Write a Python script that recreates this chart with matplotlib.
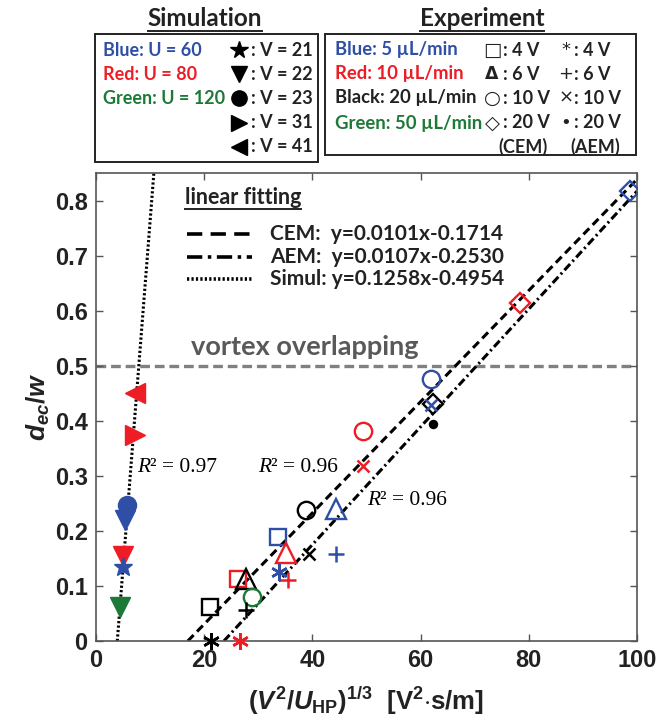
import numpy as np
import matplotlib
matplotlib.use('Agg')
import matplotlib.pyplot as plt
from matplotlib.lines import Line2D
from matplotlib.patches import Rectangle
from matplotlib.ticker import FuncFormatter

# ---- data ----
# simulation: inlet velocity U, voltage V
sim_U = [80, 80, 60, 60, 80, 60, 120]
sim_V = [41, 31, 23, 22, 22, 21, 22]
sim_x = [7.2, 7.2, 5.7, 5.4, 5.0, 5.0, 4.4]
sim_y = [0.451, 0.374, 0.247, 0.220, 0.154, 0.135, 0.062]

# experiment, CEM side (flow rate in uL/min, voltage in V)
cem_flow = [20, 10, 5, 20, 10, 5, 50, 20, 10, 5, 20, 10, 5]
cem_volt = [4, 4, 4, 6, 6, 6, 10, 10, 10, 10, 20, 20, 20]
cem_x = [21.1, 26.3, 33.7, 27.8, 35.2, 44.4, 28.9, 38.9, 49.3, 62.0, 62.2, 78.3, 98.7]
cem_y = [0.062, 0.112, 0.189, 0.112, 0.160, 0.239, 0.080, 0.238, 0.381, 0.476, 0.430, 0.613, 0.818]

# experiment, AEM side
aem_flow = [20, 10, 5, 20, 10, 5, 20, 10, 5, 20]
aem_volt = [4, 4, 4, 6, 6, 6, 10, 10, 10, 20]
aem_x = [21.2, 26.7, 33.8, 27.8, 35.4, 44.4, 39.3, 49.4, 62.0, 62.2]
aem_y = [0.0, 0.0, 0.126, 0.056, 0.111, 0.158, 0.158, 0.318, 0.428, 0.394]

# linear fits (from the labels)
fit_names = ['CEM', 'AEM', 'Simul']
fit_slope = [0.0101, 0.0107, 0.1258]
fit_icpt = [-0.1714, -0.2530, -0.4954]
fit_r2 = [0.96, 0.96, 0.97]

x_ticks = [0, 20, 40, 60, 80, 100]
y_ticks = [0, 0.1, 0.2, 0.3, 0.4, 0.5, 0.6, 0.7, 0.8]
overlap_level = 0.5

# ---- styles ----
BLUE = '#2f4fa6'
RED = '#ee1c25'
GREEN = '#1c7a36'
DARK = '#222222'
u_color = {60: BLUE, 80: RED, 120: GREEN}
flow_color = {5: BLUE, 10: RED, 20: 'black', 50: GREEN}
sim_marker = {21: '*', 22: 'v', 23: 'o', 31: '>', 41: '<'}
sim_ms = {21: 14, 22: 14, 23: 13, 31: 15, 41: 15}
cem_marker = {4: 's', 6: '^', 10: 'o', 20: 'D'}
cem_ms = {4: 11, 6: 15, 10: 12.5, 20: 10}
aem_marker = {4: (6, 2, 0), 6: '+', 10: 'x', 20: 'o'}
aem_ms = {4: 12, 6: 12, 10: 8, 20: 5}

LEG = ['Lato', 'DejaVu Sans']
plt.rcParams['lines.scale_dashes'] = False
plt.rcParams['mathtext.fontset'] = 'custom'
plt.rcParams['mathtext.rm'] = 'Liberation Sans:bold'
plt.rcParams['mathtext.it'] = 'Liberation Sans:bold:italic'
plt.rcParams['mathtext.bf'] = 'Liberation Sans:bold'

W, H = 659, 717
fig = plt.figure(figsize=(W / 100, H / 100), dpi=100)


def fx(px):
    return px / W


def fy(py):
    return 1 - py / H


ax = fig.add_axes([fx(96), fy(641), fx(637) - fx(96), fy(173) - fy(641)])
ax.set_xlim(0, 100)
ax.set_ylim(0, 0.85)

# vortex overlapping line
ax.axhline(overlap_level, color='#808080', lw=2.4, dashes=(7, 3.5), zorder=1)
ax.text(17.5, overlap_level + 0.012, 'vortex overlapping', family=LEG, weight='bold',
        fontsize=19.5, color='#595959', va='bottom')

# fit lines
fit_styles = [dict(dashes=(6, 3.5)), dict(dashes=(6, 2.5, 1.5, 2.5)), dict(dashes=(1.6, 1.6))]
for k in range(3):
    a, b = fit_slope[k], fit_icpt[k]
    if fit_names[k] == 'Simul':
        yy = np.array([0, 0.9])
        xx = (yy - b) / a
    else:
        xx = np.array([-b / a, 100])
        yy = a * xx + b
    ax.plot(xx, yy, color='black', lw=2.2, zorder=2, **fit_styles[k])

# simulation points
for x, y, u, v in zip(sim_x, sim_y, sim_U, sim_V):
    ax.plot(x, y, marker=sim_marker[v], ms=sim_ms[v], color=u_color[u],
            mec=u_color[u], ls='none', zorder=4)

# experiment points
for x, y, f, v in zip(cem_x, cem_y, cem_flow, cem_volt):
    ax.plot(x, y, marker=cem_marker[v], ms=cem_ms[v], mfc='none', mec=flow_color[f],
            mew=1.7, ls='none', zorder=3)
for x, y, f, v in zip(aem_x, aem_y, aem_flow, aem_volt):
    ax.plot(x, y, marker=aem_marker[v], ms=aem_ms[v], color=flow_color[f],
            mec=flow_color[f], mew=1.8, ls='none', zorder=3, clip_on=False)

# R^2 annotations
r2_pos = [(29.9, 0.316), (50.1, 0.256), (7.6, 0.316)]
for (px_, py_), r in zip(r2_pos, fit_r2):
    t = ax.text(px_, py_, 'R', family='Liberation Serif', style='italic', fontsize=15.5,
                va='center')
    ax.annotate('\u00b2 = %.2f' % r, xy=(1, 0.5), xycoords=t, va='center', ha='left',
                family='Liberation Serif', fontsize=15.5)

# axes styling
ax.set_xticks(x_ticks)
ax.set_yticks(y_ticks)
ax.yaxis.set_major_formatter(FuncFormatter(lambda v, p: '0' if v == 0 else '%.1f' % v))
ax.tick_params(direction='in', top=True, right=True, length=5, width=1, color='#555555',
               labelsize=17, pad=6)
for lab in ax.get_xticklabels() + ax.get_yticklabels():
    lab.set_family('Liberation Sans')
    lab.set_weight('bold')
    lab.set_color(DARK)
for s in ax.spines.values():
    s.set_color('#555555')
    s.set_linewidth(1.2)

ax.set_xlabel(r'$(V^{2}/U_{\mathrm{HP}})^{1/3}$  [V$^{2}$$\cdot$s/m]', fontsize=18.5,
              family='Liberation Sans', weight='bold', color=DARK, labelpad=9)
ax.set_ylabel(r'$d_{ec}/w$', fontsize=19, color=DARK, labelpad=2)

# linear fitting legend (inside axes)
t_lf = fig.text(fx(185), fy(197), 'linear fitting', family=LEG, weight='bold',
                fontsize=15.5, va='center', color=DARK)
leg_rows = [234, 257, 279]
leg_dash = [(11, 6), (11, 4, 2.5, 4), (1.6, 1.6)]
for k in range(3):
    fig.add_artist(Line2D([fx(187), fx(252)], [fy(leg_rows[k])] * 2, color='black', lw=2.6,
                          dashes=leg_dash[k], transform=fig.transFigure))
    name = fit_names[k] + ':  ' if fit_names[k] != 'Simul' else 'Simul: '
    fig.text(fx(270), fy(leg_rows[k]), '%sy=%.4fx%.4f' % (name, fit_slope[k], fit_icpt[k]),
             family=LEG, weight='bold', fontsize=15, va='center', color=DARK)

# ---- top legend boxes ----
for (x0, y0, x1, y1) in [(95, 34, 318, 162), (325, 34, 636, 155)]:
    fig.add_artist(Rectangle((fx(x0), fy(y1)), fx(x1) - fx(x0), fy(y0) - fy(y1),
                             fill=False, lw=1.4, ec=DARK, transform=fig.transFigure))

t_sim = fig.text(fx(205), fy(18), 'Simulation', family=LEG, weight='bold', fontsize=17.5,
                 ha='center', va='center', color=DARK)
t_exp = fig.text(fx(482), fy(18), 'Experiment', family=LEG, weight='bold', fontsize=17.5,
                 ha='center', va='center', color=DARK)

rows = [50, 74, 98, 123, 147]
sim_leg_U = [60, 80, 120]
for r, u, lab in zip(rows, sim_leg_U, ['Blue', 'Red', 'Green']):
    fig.text(fx(103), fy(r), '%s: U = %d' % (lab, u), family=LEG, weight='bold',
             fontsize=13, va='center', color=u_color[u])
for r, v in zip(rows, [21, 22, 23, 31, 41]):
    fig.add_artist(Line2D([fx(239)], [fy(r)], marker=sim_marker[v], ms=11 if v != 21 else 13,
                          color='black', transform=fig.transFigure))
    fig.text(fx(251), fy(r), ': V = %d' % v, family=LEG, weight='bold', fontsize=13,
             va='center', color=DARK)

exp_leg_flow = [5, 10, 20, 50]
for r, f, lab in zip(rows, exp_leg_flow, ['Blue', 'Red', 'Black', 'Green']):
    fig.text(fx(335), fy(r), '%s: %d \u00b5L/min' % (lab, f), family=LEG, weight='bold',
             fontsize=13.3, va='center', color=flow_color[f] if f != 20 else DARK)
cem_sym = ['\u25a1', '\u0394', '\u25cb', '\u25c7']
aem_sym = ['*', '+', '\u00d7', '\u2022']
for r, v, cs, as_ in zip(rows, [4, 6, 10, 20], cem_sym, aem_sym):
    fig.text(fx(492), fy(r), cs, family=['DejaVu Sans'], fontsize=14 if cs != '\u0394' else 12.5,
             weight='bold' if cs == '\u0394' else 'normal',
             ha='center', va='center', color=DARK)
    fig.text(fx(503), fy(r), ': %d V' % v, family=LEG, weight='bold', fontsize=13,
             va='center', color=DARK)
    fig.text(fx(566), fy(r), as_, family=['DejaVu Sans'], fontsize=13,
             ha='center', va='center', color=DARK)
    fig.text(fx(574), fy(r), ': %d V' % v, family=LEG, weight='bold', fontsize=13,
             va='center', color=DARK)
fig.text(fx(523), fy(147), '(CEM)', family=LEG, weight='bold', fontsize=13,
         ha='center', va='center', color=DARK)
fig.text(fx(595), fy(147), '(AEM)', family=LEG, weight='bold', fontsize=13,
         ha='center', va='center', color=DARK)

# underline the headings
fig.canvas.draw()
rend = fig.canvas.get_renderer()
for t in [t_sim, t_exp, t_lf]:
    bb = t.get_window_extent(rend)
    yl = (bb.y0 - 1.5) / H
    fig.add_artist(Line2D([bb.x0 / W, bb.x1 / W], [yl, yl], color=DARK, lw=1.4,
                          transform=fig.transFigure))

fig.savefig('out.png', dpi=100)
